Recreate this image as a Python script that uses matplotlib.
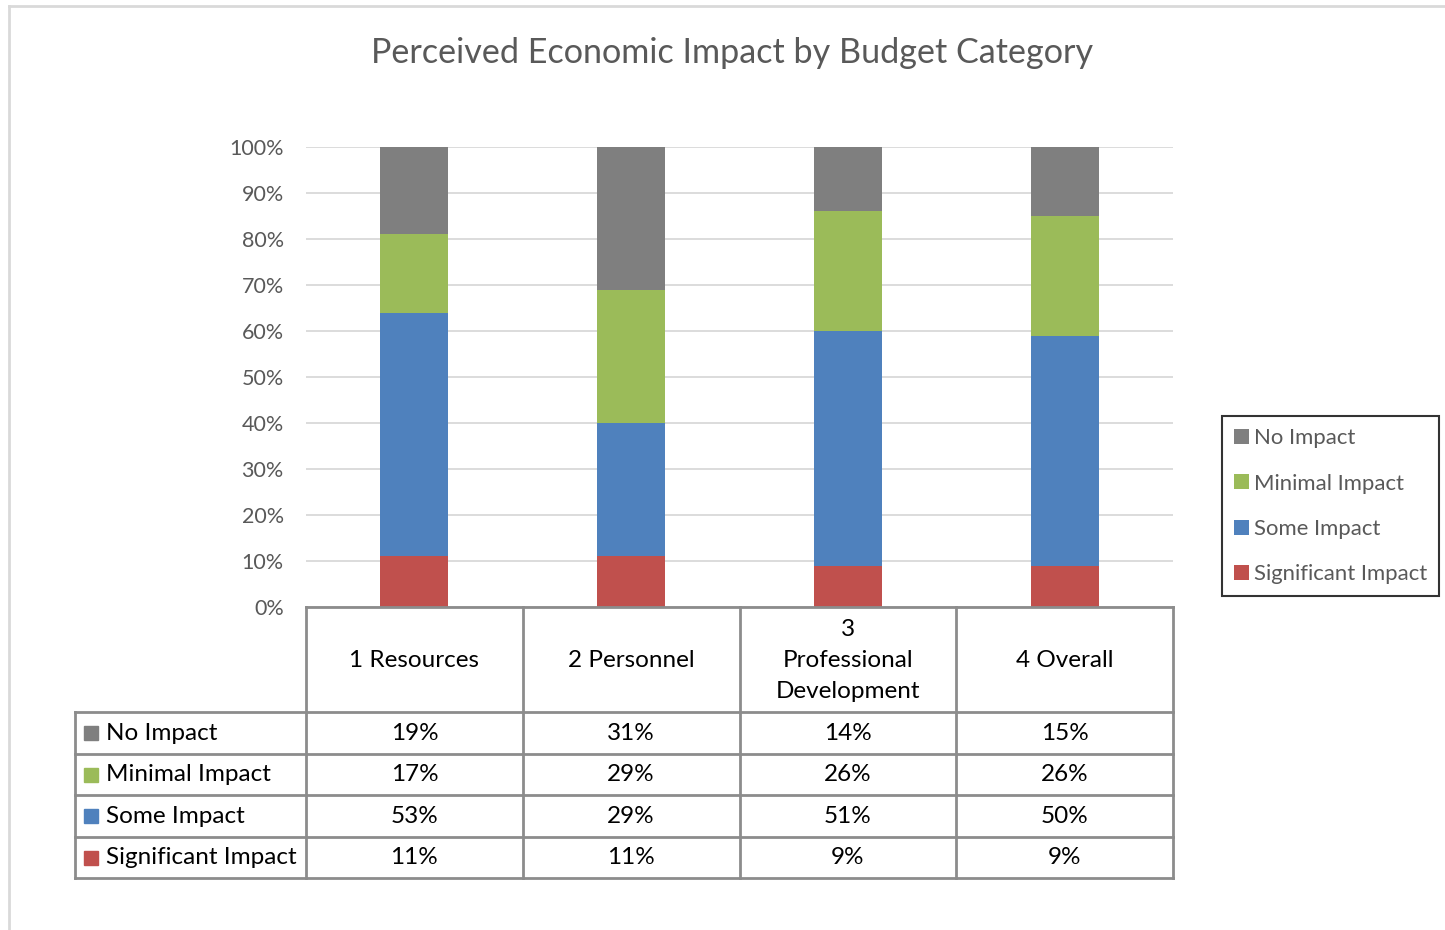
"""Stacked 100% bars with an Excel-style data table underneath."""
import matplotlib
matplotlib.use("Agg")
import matplotlib.pyplot as plt
from matplotlib.patches import Rectangle

plt.rcParams["font.family"] = ["Lato", "DejaVu Sans"]

TITLE = "Perceived Economic Impact by Budget Category"
CATEGORIES = ["1 Resources", "2 Personnel", "3\nProfessional\nDevelopment", "4 Overall"]
# bottom -> top stacking order
SERIES = ["Significant Impact", "Some Impact", "Minimal Impact", "No Impact"]
SIGNIFICANT = [11, 11, 9, 9]
SOME = [53, 29, 51, 50]
MINIMAL = [17, 29, 26, 26]
NO_IMPACT = [19, 31, 14, 15]
COLORS = ["#c0504d", "#4f81bd", "#9bbb59", "#7f7f7f"]
YTICKS = [0, 10, 20, 30, 40, 50, 60, 70, 80, 90, 100]

W, H = 1445, 930
TXT = "#595959"
GRID = "#d9d9d9"
LINE = "#8c8c8c"

fig = plt.figure(figsize=(W / 100, H / 100), dpi=100)

# plot area (pixel layout)
PX0, PX1, PY0, PY1 = 306, 1173, 147, 607
ax = fig.add_axes([PX0 / W, 1 - PY1 / H, (PX1 - PX0) / W, (PY1 - PY0) / H])
values = [SIGNIFICANT, SOME, MINIMAL, NO_IMPACT]
xs = range(len(CATEGORIES))
bottom = [0] * len(CATEGORIES)
bars = []
for name, vals, col in zip(SERIES, values, COLORS):
    b = ax.bar(xs, vals, 0.313, bottom=bottom, color=col, label=name, zorder=3)
    bars.append(b)
    bottom = [a + v for a, v in zip(bottom, vals)]
ax.set_xlim(-0.5, len(CATEGORIES) - 0.5)
ax.set_ylim(0, 100)
ax.set_yticks(YTICKS)
ax.set_yticklabels([f"{t}%" for t in YTICKS], color=TXT, fontsize=15.5)
ax.set_xticks([])
ax.tick_params(axis="y", length=0, pad=16)
ax.grid(axis="y", color=GRID, lw=1.3, zorder=0)
for s in ax.spines.values():
    s.set_visible(False)

# overlay in pixel coordinates for the border
ov = fig.add_axes([0, 0, 1, 1], zorder=-1)
ov.set_xlim(0, W)
ov.set_ylim(H, 0)
ov.axis("off")

ov.plot([9, 9], [6, H], color=GRID, lw=2)
ov.plot([9, W], [6, 6], color=GRID, lw=2)

fig.text(732 / W, 1 - 53 / H, TITLE, ha="center", va="center", fontsize=24.6, color=TXT)

# data table
tab = fig.add_axes([0, 0, 1, 1], zorder=2)
tab.set_xlim(0, W)
tab.set_ylim(H, 0)
tab.axis("off")
ncol = len(CATEGORIES)
cw = (PX1 - PX0) / ncol
col_edges = [PX0 + i * cw for i in range(ncol + 1)]
LX = 75
row_edges = [607, 712, 754, 795, 837, 878]
lw = 2
FS = 17.5
tab.plot([PX0, PX1], [row_edges[0], row_edges[0]], color=LINE, lw=lw)
for x in col_edges:
    tab.plot([x, x], [row_edges[0], row_edges[-1]], color=LINE, lw=lw)
for y in row_edges[1:]:
    tab.plot([LX, PX1], [y, y], color=LINE, lw=lw)
tab.plot([LX, LX], [row_edges[1], row_edges[-1]], color=LINE, lw=lw)

for i, cat in enumerate(CATEGORIES):
    cx = (col_edges[i] + col_edges[i + 1]) / 2
    tab.text(cx, (row_edges[0] + row_edges[1]) / 2 + 1, cat, ha="center", va="center",
             fontsize=FS, color="black", linespacing=1.6)

rows = list(zip(SERIES, values, COLORS))[::-1]
for r, (name, vals, col) in enumerate(rows):
    y0, y1 = row_edges[r + 1], row_edges[r + 2]
    yc = (y0 + y1) / 2
    tab.add_patch(Rectangle((84, yc - 7), 14, 14, color=col))
    tab.text(106, yc, name, ha="left", va="center", fontsize=FS, color="black")
    for i, v in enumerate(vals):
        cx = (col_edges[i] + col_edges[i + 1]) / 2
        tab.text(cx, yc, f"{v}%", ha="center", va="center", fontsize=FS, color="black")

# legend (top -> bottom: No, Minimal, Some, Significant)
leg = fig.legend([b for b in bars[::-1]], SERIES[::-1], loc="upper left",
                 bbox_to_anchor=(1222 / W, 1 - 416 / H), fontsize=15.9,
                 handlelength=0.65, handleheight=0.65, handletextpad=0.25,
                 labelspacing=1.15, borderpad=0.55, borderaxespad=0,
                 frameon=True, fancybox=False, labelcolor=TXT)
leg.get_frame().set_edgecolor("black")
leg.get_frame().set_linewidth(1.5)

fig.savefig("out.png", dpi=100)
